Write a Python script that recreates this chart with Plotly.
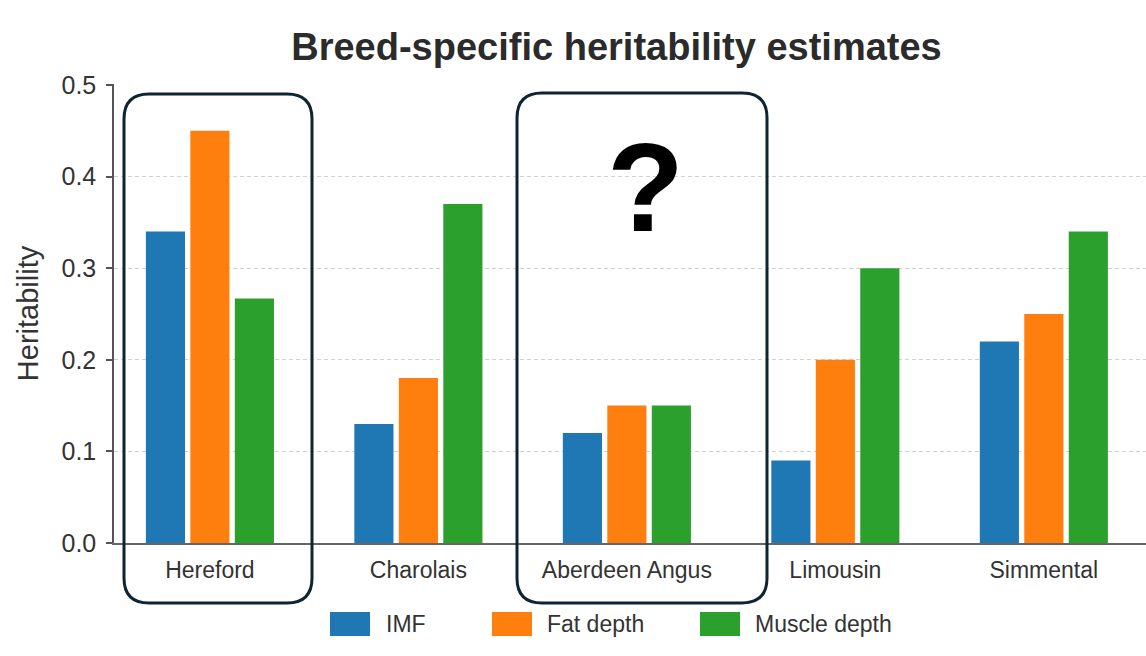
import plotly.graph_objects as go

# ---------------- data ----------------
breeds = ["Hereford", "Charolais", "Aberdeen Angus", "Limousin", "Simmental"]
imf = [0.34, 0.13, 0.12, 0.09, 0.22]
fat_depth = [0.45, 0.18, 0.15, 0.20, 0.25]
muscle_depth = [0.267, 0.37, 0.15, 0.30, 0.34]
series_names = ["IMF", "Fat depth", "Muscle depth"]
series_values = [imf, fat_depth, muscle_depth]
series_colors = ["#1f77b4", "#ff7f0e", "#2ca02c"]
y_tick_values = [0.0, 0.1, 0.2, 0.3, 0.4, 0.5]
title_text = "Breed-specific heritability estimates"
y_title_text = "Heritability"
question_text = "?"

# ---------------- layout geometry ----------------
W, H = 1146, 656
ML, MR, MT, MB = 114, 0, 84, 113
PW = W - ML - MR
PH = H - MT - MB
FONT = "Liberation Sans, Arial, sans-serif"
TEXT_COLOR = "#333333"


def px_x(px):
    return (px - ML) / PW


def px_y(py):
    return (H - MB - py) / PH


fig = go.Figure()
for name, vals, col in zip(series_names, series_values, series_colors):
    fig.add_trace(go.Bar(
        x=breeds, y=vals, name=name,
        marker=dict(color=col, line=dict(width=0)),
        showlegend=False,
    ))

shapes = []
annotations = []

# rounded highlight boxes (pixel bounds -> paper)
boxes = [(124, 94, 312, 603), (517, 93, 767, 603)]
r = 25
for (bx0, by0, bx1, by1) in boxes:
    x0, x1 = px_x(bx0), px_x(bx1)
    yt, yb = px_y(by0), px_y(by1)
    rx, ry = r / PW, r / PH
    path = (f"M {x0+rx},{yt} L {x1-rx},{yt} Q {x1},{yt} {x1},{yt-ry} "
            f"L {x1},{yb+ry} Q {x1},{yb} {x1-rx},{yb} "
            f"L {x0+rx},{yb} Q {x0},{yb} {x0},{yb+ry} "
            f"L {x0},{yt-ry} Q {x0},{yt} {x0+rx},{yt} Z")
    shapes.append(dict(type="path", path=path, xref="paper", yref="paper",
                       line=dict(color="#0d2433", width=3), layer="above"))

# question mark
annotations.append(dict(text=question_text, x=px_x(645), y=px_y(187),
                        xref="paper", yref="paper", showarrow=False,
                        xanchor="center", yanchor="middle",
                        font=dict(family=FONT, size=126, color="#000000",
                                  weight="bold")))

# custom legend
legend_swatch_x = [330, 492, 700]
legend_text_x = [384, 545, 753]
sw_w, sw_top, sw_bot = 40, 612, 636
for name, col, sx, tx in zip(series_names, series_colors, legend_swatch_x, legend_text_x):
    shapes.append(dict(type="rect", xref="paper", yref="paper",
                       x0=px_x(sx), x1=px_x(sx + sw_w),
                       y0=px_y(sw_bot), y1=px_y(sw_top),
                       fillcolor=col, line=dict(width=0)))
    annotations.append(dict(text=name, x=px_x(tx), y=px_y(624),
                            xref="paper", yref="paper", showarrow=False,
                            xanchor="left", yanchor="middle",
                            font=dict(family=FONT, size=23, color=TEXT_COLOR)))

fig.update_layout(
    width=W, height=H,
    margin=dict(l=ML, r=MR, t=MT, b=MB, pad=0),
    paper_bgcolor="white", plot_bgcolor="white",
    barmode="group", bargap=0.36, bargroupgap=0.12,
    title=dict(text=title_text, x=616.5 / W, xref="container", xanchor="center",
               y=1 - 47 / H, yref="container", yanchor="middle",
               font=dict(family=FONT, size=38, color="#2b2b2b", weight="bold")),
    font=dict(family=FONT, color=TEXT_COLOR),
    shapes=shapes, annotations=annotations,
    showlegend=False,
)

fig.update_xaxes(
    range=[-0.46, 4.49], showline=True, linecolor="#666666", linewidth=2,
    ticks="", showgrid=False, zeroline=False,
    tickfont=dict(family=FONT, size=23, color=TEXT_COLOR),
    ticklabelstandoff=5,
)
fig.update_yaxes(
    range=[0, 0.501], tickvals=y_tick_values, tickformat=".1f",
    showline=True, linecolor="#555555", linewidth=1.5,
    ticks="outside", ticklen=6, tickcolor="#555555", tickwidth=1.5,
    showgrid=True, gridcolor="#d2d2d2", gridwidth=1, griddash="4px,3px",
    zeroline=False,
    tickfont=dict(family=FONT, size=25, color=TEXT_COLOR),
    ticklabelstandoff=5,
    title=dict(text=y_title_text, standoff=14,
               font=dict(family=FONT, size=29, color=TEXT_COLOR)),
)

fig.write_html("out.html")
